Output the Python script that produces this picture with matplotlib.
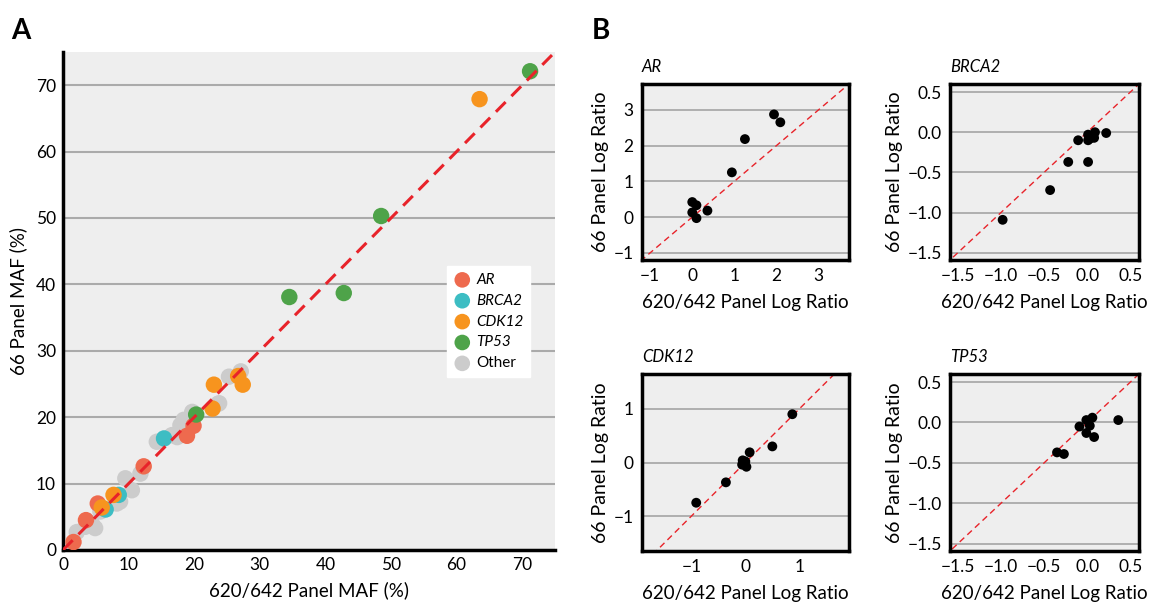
import matplotlib
matplotlib.use("Agg")
import matplotlib.pyplot as plt
import numpy as np

plt.rcParams['font.family'] = ['Lato', 'DejaVu Sans']

# ---------------- Panel A data (MAF %) ----------------
genes = ["AR", "BRCA2", "CDK12", "TP53", "Other"]
gene_colors = ["#EE6A4E", "#3DBDC3", "#F7941E", "#4EA349", "#CCCCCC"]

other_x = [2.1, 3.4, 4.9, 4.4, 5.7, 8.2, 8.7, 9.5, 10.5, 11.8, 14.3, 16.6, 17.4, 17.9, 18.4, 18.9, 19.7, 23.8, 23.6, 25.3, 27.1]
other_y = [2.7, 3.5, 3.3, 4.0, 5.8, 7.0, 7.3, 10.8, 9.0, 11.5, 16.3, 17.3, 17.0, 18.8, 19.6, 18.1, 20.8, 22.1, 22.0, 26.1, 26.9]
ar_x = [1.6, 3.5, 5.3, 12.3, 18.9, 19.9]
ar_y = [1.2, 4.5, 7.0, 12.6, 17.2, 18.7]
brca2_x = [6.5, 8.5, 15.4]
brca2_y = [6.1, 8.3, 16.8]
cdk12_x = [5.9, 7.7, 22.8, 23.0, 26.7, 27.4, 63.5]
cdk12_y = [6.4, 8.3, 21.3, 24.9, 26.2, 24.9, 67.9]
tp53_x = [20.3, 34.5, 42.8, 48.5, 71.2]
tp53_y = [20.4, 38.1, 38.7, 50.3, 72.1]

maf_ticks = [0, 10, 20, 30, 40, 50, 60, 70]

# ---------------- Panel B data (log ratios) ----------------
ar_lr_x = [1.94, 2.09, 1.25, 0.94, 0.0, 0.1, 0.0, 0.1, 0.36]
ar_lr_y = [2.87, 2.65, 2.18, 1.25, 0.42, 0.33, 0.13, -0.03, 0.18]
brca2_lr_x = [-0.98, -0.43, -0.22, -0.105, 0.01, 0.01, 0.03, 0.09, 0.08, 0.01, 0.22]
brca2_lr_y = [-1.09, -0.72, -0.37, -0.10, -0.37, -0.03, -0.08, 0.0, -0.07, -0.10, -0.01]
cdk12_lr_x = [0.87, 0.50, 0.08, -0.05, -0.06, 0.0, 0.02, -0.02, -0.36, -0.91]
cdk12_lr_y = [0.90, 0.30, 0.19, 0.04, -0.04, 0.02, -0.08, -0.03, -0.37, -0.75]
tp53_lr_x = [0.36, -0.35, -0.27, -0.09, -0.01, 0.06, 0.03, -0.01, 0.08]
tp53_lr_y = [0.03, -0.37, -0.39, -0.05, 0.03, 0.06, -0.04, -0.13, -0.18]

W, H = 1149, 605
fig = plt.figure(figsize=(W / 100, H / 100), dpi=100)

def px_axes(left, top, right, bottom):
    return fig.add_axes([left / W, 1 - bottom / H, (right - left) / W, (bottom - top) / H])

BG = "#EEEEEE"
GRID = "#AAAAAA"
LINE_RED = "#E8232A"

# ---------------- Panel A ----------------
axA = px_axes(63, 52, 555, 550)
axA.set_facecolor(BG)
axA.set_xlim(0, 75)
axA.set_ylim(0, 75)
axA.set_yticks(maf_ticks)
axA.set_xticks(maf_ticks)
axA.grid(axis='y', color=GRID, lw=1.5)
axA.set_axisbelow(True)
for s in ['top', 'right']:
    axA.spines[s].set_visible(False)
for s in ['left', 'bottom']:
    axA.spines[s].set_linewidth(2.5)
    axA.spines[s].set_color('black')
axA.tick_params(length=0, labelsize=12.5, pad=5)

series = [(ar_x, ar_y), (brca2_x, brca2_y), (cdk12_x, cdk12_y), (tp53_x, tp53_y), (other_x, other_y)]
order = [4, 0, 1, 2, 3]
handles = {}
for i in order:
    xs, ys = series[i]
    handles[i] = axA.scatter(xs, ys, s=140, color=gene_colors[i], edgecolors='none', zorder=3, label=genes[i])
axA.plot([0, 80], [0, 80], color=LINE_RED, lw=2.2, dashes=(4.5, 2.7), zorder=4)
axA.set_xlabel("620/642 Panel MAF (%)", fontsize=13.5, labelpad=6)
axA.set_ylabel("66 Panel MAF (%)", fontsize=13.5, labelpad=6)
leg = axA.legend([handles[i] for i in range(5)], genes, loc='upper left',
                 bbox_to_anchor=((447 - 63) / 492, 1 - (266 - 52) / 498),
                 frameon=True, fancybox=False, framealpha=1, edgecolor='white',
                 fontsize=11, handletextpad=0.35, labelspacing=0.45, markerscale=0.95,
                 borderpad=0.45, handlelength=1.1, borderaxespad=0)
for t, g in zip(leg.get_texts(), genes):
    if g != "Other":
        t.set_fontstyle('italic')

fig.text(11 / W, 1 - 31 / H, "A", fontsize=20, fontweight='bold', va='center', ha='left')
fig.text(592 / W, 1 - 31 / H, "B", fontsize=20, fontweight='bold', va='center', ha='left')

# ---------------- Panel B ----------------
def small_panel(box, title, xs, ys, lim_x, lim_y, ticks, ticklabels):
    ax = px_axes(*box)
    ax.set_facecolor(BG)
    ax.set_xlim(*lim_x)
    ax.set_ylim(*lim_y)
    ax.set_xticks(ticks)
    ax.set_yticks(ticks)
    ax.set_xticklabels(ticklabels)
    ax.set_yticklabels(ticklabels)
    ax.grid(axis='y', color=GRID, lw=1.3)
    ax.set_axisbelow(True)
    for s in ax.spines.values():
        s.set_linewidth(2.5)
        s.set_color('black')
    ax.tick_params(length=0, labelsize=12.5, pad=6)
    ax.plot([-5, 5], [-5, 5], color=LINE_RED, lw=1.0, dashes=(4.5, 3), zorder=2)
    ax.scatter(xs, ys, s=50, color='black', edgecolors='none', zorder=3)
    ax.set_xlabel("620/642 Panel Log Ratio", fontsize=13.5, labelpad=7)
    ax.set_ylabel("66 Panel Log Ratio", fontsize=14, labelpad=3)
    ax.set_title(title, fontsize=12, fontstyle='italic', loc='left', pad=9)
    return ax

m = "\u2212"
small_panel((641.7, 84, 849, 260), "AR", ar_lr_x, ar_lr_y, (-1.2, 3.72), (-1.2, 3.72),
            [-1, 0, 1, 2, 3], [m + "1", "0", "1", "2", "3"])
small_panel((950, 84, 1139, 260), "BRCA2", brca2_lr_x, brca2_lr_y, (-1.59, 0.6), (-1.59, 0.6),
            [-1.5, -1.0, -0.5, 0.0, 0.5], [m + "1.5", m + "1.0", m + "0.5", "0.0", "0.5"])
small_panel((641.7, 374, 849, 551), "CDK12", cdk12_lr_x, cdk12_lr_y, (-1.92, 1.92), (-1.65, 1.65),
            [-1, 0, 1], [m + "1", "0", "1"])
small_panel((950, 374, 1139, 551), "TP53", tp53_lr_x, tp53_lr_y, (-1.59, 0.6), (-1.59, 0.6),
            [-1.5, -1.0, -0.5, 0.0, 0.5], [m + "1.5", m + "1.0", m + "0.5", "0.0", "0.5"])

fig.savefig("out.png", dpi=100)
